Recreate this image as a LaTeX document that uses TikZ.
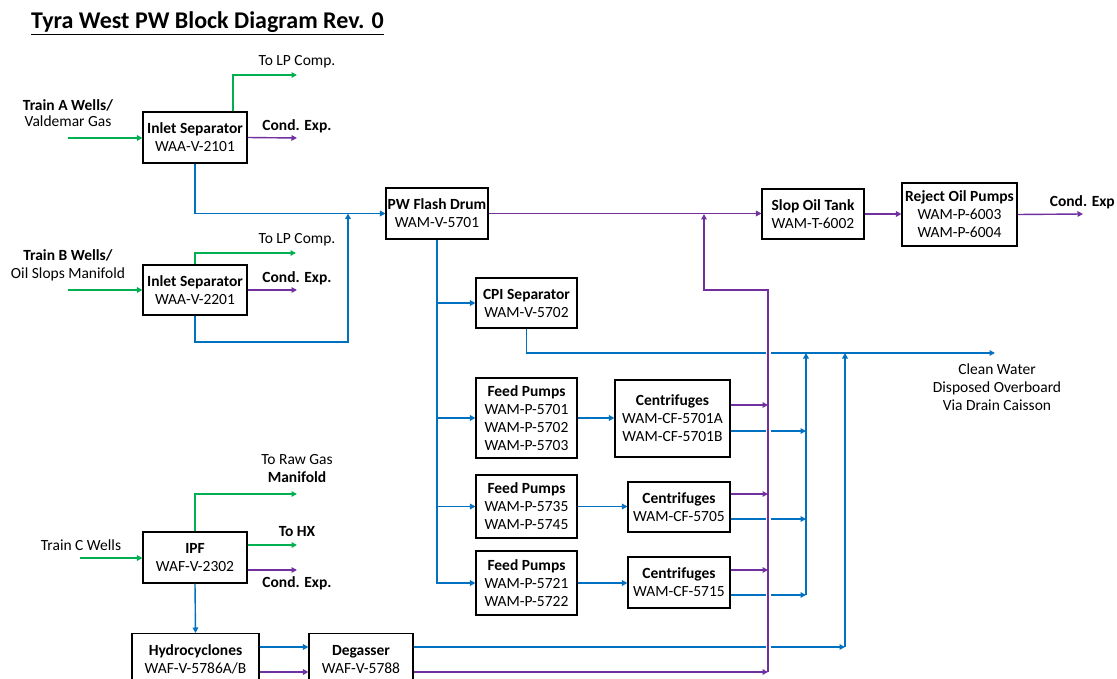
\documentclass[tikz,border=0pt]{standalone}
\usepackage{fontspec}
\setmainfont{Carlito}
\usetikzlibrary{arrows.meta}
\definecolor{fgreen}{HTML}{00B050}
\definecolor{fpurple}{HTML}{7030A0}
\definecolor{fblue}{HTML}{0070C0}
\begin{document}
\begin{tikzpicture}[x=1pt,y=-1pt,
  every node/.style={font=\fontsize{15.5}{18}\selectfont},
  box/.style={draw=black, line width=1.1pt, align=center, inner sep=0pt, fill=white},
  lbl/.style={align=center, inner sep=0pt},
  arr/.style={-{Triangle[length=5.5pt,width=5.5pt]}},
  gl/.style={line width=1.4pt, draw=fgreen},
  pl/.style={line width=1.4pt, draw=fpurple},
  bl/.style={line width=1.4pt, draw=fblue},
  gap/.style={line width=5pt, draw=white}]
\clip (0,0) rectangle (1117,679);
\fill[white] (0,0) rectangle (1117,679);

% title
\node[anchor=base west, inner sep=0pt, font=\fontsize{24}{28}\selectfont\bfseries] (title) at (31,29) {\underline{Tyra West PW Block Diagram Rev. 0}};

% boxes
\node[box, minimum width=104pt, minimum height=51pt] (sepA) at (195,137.5) {\textbf{Inlet Separator}\\WAA-V-2101};
\node[box, minimum width=104pt, minimum height=50pt] (sepB) at (195,290) {\textbf{Inlet Separator}\\WAA-V-2201};
\node[box, minimum width=104pt, minimum height=51pt] (ipf) at (195,557.5) {\textbf{IPF}\\WAF-V-2302};
\node[box, minimum width=127pt, minimum height=70pt, anchor=north] (hydro) at (195.5,633) {\textbf{Hydrocyclones}\\WAF-V-5786A/B\\\mbox{}};
\node[box, minimum width=104pt, minimum height=70pt, anchor=north] (degas) at (361,633) {\textbf{Degasser}\\WAF-V-5788\\\mbox{}};
\node[box, minimum width=102pt, minimum height=51pt] (flash) at (437,213.5) {\textbf{PW Flash Drum}\\WAM-V-5701};
\node[box, minimum width=101pt, minimum height=50pt] (cpi) at (526.5,303) {\textbf{CPI Separator}\\WAM-V-5702};
\node[box, minimum width=101pt, minimum height=80pt] (fp1) at (526.5,418) {\textbf{Feed Pumps}\\WAM-P-5701\\WAM-P-5702\\WAM-P-5703};
\node[box, minimum width=115pt, minimum height=77pt] (cf1) at (672.5,418.5) {\textbf{Centrifuges}\\WAM-CF-5701A\\WAM-CF-5701B};
\node[box, minimum width=101pt, minimum height=63pt] (fp2) at (526.5,506.5) {\textbf{Feed Pumps}\\WAM-P-5735\\WAM-P-5745};
\node[box, minimum width=102pt, minimum height=50pt] (cf2) at (679,507) {\textbf{Centrifuges}\\WAM-CF-5705};
\node[box, minimum width=101pt, minimum height=64pt] (fp3) at (526.5,583) {\textbf{Feed Pumps}\\WAM-P-5721\\WAM-P-5722};
\node[box, minimum width=102pt, minimum height=51pt] (cf3) at (679,582.5) {\textbf{Centrifuges}\\WAM-CF-5715};
\node[box, minimum width=102pt, minimum height=50pt] (slop) at (813,214) {\textbf{Slop Oil Tank}\\WAM-T-6002};
\node[box, minimum width=115pt, minimum height=63pt] (reject) at (959.5,214.5) {\textbf{Reject Oil Pumps}\\WAM-P-6003\\WAM-P-6004};

% labels
\node[lbl, font=\fontsize{15.5}{16.5}\selectfont] (lTA) at (68,113) {\textbf{Train A Wells/}\\Valdemar Gas};
\node[lbl] (lTB) at (68,265) {\textbf{Train B Wells/}\\Oil Slops Manifold};
\node[lbl] (lTC) at (81,545) {Train C Wells};
\node[lbl] (lLPA) at (297,62) {To LP Comp.};
\node[lbl] (lCA) at (297,126) {\textbf{Cond. Exp.}};
\node[lbl] (lLPB) at (297,240) {To LP Comp.};
\node[lbl] (lCB) at (297,278) {\textbf{Cond. Exp.}};
\node[lbl] (lRG) at (297,468.5) {To Raw Gas\\\textbf{Manifold}};
\node[lbl] (lHX) at (297,532) {\textbf{To HX}};
\node[lbl] (lCC) at (297,583) {\textbf{Cond. Exp.}};
\node[lbl] (lCW) at (997,387.5) {Clean Water\\Disposed Overboard\\Via Drain Caisson};
\node[lbl, anchor=east] (lCR) at (1115,202) {\textbf{Cond. Exp}};

% coordinates
\coordinate (inA) at (68,138);
\coordinate (inB) at (68,290);
\coordinate (inC) at (80,558);
\coordinate (lpA) at (297,75);
\coordinate (lpB) at (296,253);
\coordinate (cdA) at (297,138);
\coordinate (cdB) at (297,290);
\coordinate (rawg) at (297,494);
\coordinate (hx) at (297,545);
\coordinate (cdC) at (297,570);
\coordinate (jB) at (348,213.5);
\coordinate (cB) at (348,342);
\coordinate (jP) at (704,214);
\coordinate (pTop) at (768,290);
\coordinate (pBot) at (768,672);
\coordinate (cdR) at (1083,214);
\coordinate (clean) at (995,353);
\coordinate (t1) at (806,353);
\coordinate (t2) at (845,353);
\coordinate (c1p) at (768,405);
\coordinate (c1b) at (806,431);
\coordinate (c2p) at (768,494);
\coordinate (c2b) at (806,519);
\coordinate (c3p) at (768,570);
\coordinate (c3b) at (806,595);
\coordinate (dgb) at (845,647);
\coordinate (dgp) at (768,672);

% green
\draw[gl,arr] (inA) -- (sepA.west |- inA);
\draw[gl,arr] ([xshift=38pt]sepA.north) |- (lpA);
\draw[gl,arr] (inB) -- (sepB.west |- inB);
\draw[gl,arr] (sepB.north) |- (lpB);
\draw[gl,arr] (inC) -- (ipf.west |- inC);
\draw[gl,arr] (ipf.north) |- (rawg);
\draw[gl,arr] (ipf.east |- hx) -- (hx);

% blue
\draw[bl,arr] (sepA.south) |- (flash.west);
\draw[bl,arr] (sepB.south) |- (cB) -- (jB);
\draw[bl,arr] (flash.south) |- (fp3.west);
\draw[bl,arr] (flash.south |- cpi.west) -- (cpi.west);
\draw[bl,arr] (flash.south |- fp1.west) -- (fp1.west);
\draw[bl,arr] (flash.south |- fp2.west) -- (fp2.west);
\draw[bl,arr] (fp1.east) -- (fp1.east -| cf1.west);
\draw[bl,arr] (fp2.east) -- (fp2.east -| cf2.west);
\draw[bl,arr] (fp3.east) -- (fp3.east -| cf3.west);
\draw[bl,arr] (cpi.south) |- (clean);
\draw[bl,arr] (cf1.east |- c1b) -- (c1b);
\draw[bl,arr] (cf2.east |- c2b) -- (c2b);
\draw[bl,arr] (cf3.east |- c3b) -- (c3b);
\draw[bl,arr] (c3b) -- (t1);
\draw[bl,arr] (ipf.south) -- (hydro.north);
\draw[bl,arr] (hydro.east |- dgb) -- (degas.west |- dgb);
\draw[bl,arr] (degas.east |- dgb) -- (dgb);
\draw[bl,arr] (dgb) -- (t2);

% purple
\draw[gap] (pBot) -- (pTop);
\draw[pl,arr] (pBot) -- (pTop) -| (jP);
\draw[pl,arr] (sepA.east) -- (cdA);
\draw[pl,arr] (sepB.east) -- (cdB);
\draw[pl,arr] (ipf.east |- cdC) -- (cdC);
\draw[pl,arr] (flash.east) -- (flash.east -| slop.west);
\draw[pl,arr] (slop.east) -- (slop.east -| reject.west);
\draw[pl,arr] (reject.east) -- (cdR);
\draw[pl,arr] (cf1.east |- c1p) -- (c1p);
\draw[pl,arr] (cf2.east |- c2p) -- (c2p);
\draw[pl,arr] (cf3.east |- c3p) -- (c3p);
\draw[pl,arr] (hydro.east |- dgp) -- (degas.west |- dgp);
\draw[pl,arr] (degas.east |- dgp) -- (dgp);
\end{tikzpicture}
\end{document}
